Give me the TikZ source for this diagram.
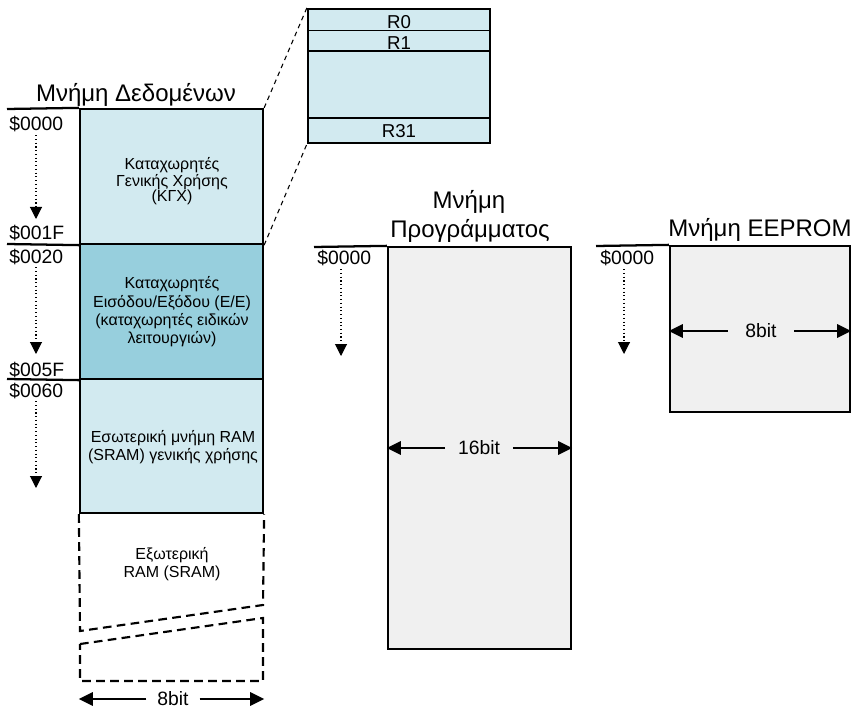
\documentclass[tikz,border=0pt]{standalone}
\usepackage{fontspec}
\setmainfont{Liberation Sans}
\usetikzlibrary{arrows.meta,fit}
\definecolor{lblue}{HTML}{D2EAF0}
\definecolor{mblue}{HTML}{97CFDD}
\definecolor{lgray}{HTML}{F0F0F0}
\begin{document}
\begin{tikzpicture}[x=0.75pt,y=-0.75pt,
  box/.style={draw=black,line width=1.7pt,inner sep=0pt},
  rule/.style={line width=1.7pt},
  ttl/.style={font=\fontsize{18}{21}\selectfont,inner sep=0pt,anchor=base},
  addr/.style={font=\fontsize{14.5}{17}\selectfont,inner sep=0pt,anchor=base west},
  reglbl/.style={font=\fontsize{14}{16}\selectfont,inner sep=0pt,anchor=base},
  btxt/.style={font=\fontsize{12}{13.8}\selectfont,align=center,inner sep=0pt},
  wlbl/.style={font=\fontsize{14.5}{17}\selectfont,inner ysep=0pt},
  dotarrow/.style={dotted,line width=0.8pt,-{Triangle[width=9pt,length=9pt]}},
  warrow/.style={line width=1.6pt,-{Triangle[width=10pt,length=10.5pt]}},
  extline/.style={line width=1.6pt,dash pattern=on 6.5pt off 4pt},
  zoomline/.style={line width=0.8pt,dash pattern=on 3.5pt off 3pt}
]
\useasboundingbox (0,0) rectangle (856,709);

% ---------- data memory ----------
\node[ttl] (dtitle) at (136,102) {Μνήμη Δεδομένων};
\node[box,fill=lblue,fit={(80,109) (263,244)}] (kgx) {};
\node[box,fill=mblue,fit={(80,244) (263,379)}] (io) {};
\node[box,fill=lblue,fit={(80,379) (263,513)}] (sram) {};
\draw[rule] (7,109) -- (kgx.north west);
\draw[rule] (7,244) -- (kgx.south west);
\draw[rule] (7,379) -- (io.south west);

\node[btxt,font=\fontsize{12}{11.5}\selectfont] (kgxt) at (172,181) {Καταχωρητές\\Γενικής Χρήσης\\(ΚΓΧ)};
\node[btxt] (iot) at (172,312) {Καταχωρητές\\Εισόδου/Εξόδου (Ε/Ε)\\(καταχωρητές ειδικών\\λειτουργιών)};
\node[btxt] (sramt) at (173,447) {Εσωτερική μνήμη RAM\\(SRAM) γενικής χρήσης};
\node[btxt] (extt) at (172,564) {Εξωτερική\\RAM (SRAM)};

% external (dashed) part
\draw[extline] (sram.south west) -- (80,631) -- (263,605) -- (sram.south east);
\draw[extline] (80,644) -- (263,618) -- (263,681) -- (80,681) -- cycle;

% address labels
\node[addr] (a0) at (9,131) {\$0000};
\node[addr] (a1f) at (9,239) {\$001F};
\node[addr] (a20) at (9,263) {\$0020};
\node[addr] (a5f) at (9,376) {\$005F};
\node[addr] (a60) at (9,397) {\$0060};
\coordinate (t1) at (36,219);
\coordinate (t2) at (36,354);
\coordinate (t3) at (36,488);
\draw[dotarrow] ([yshift=-2pt]a0.south -| t1) -- (t1);
\draw[dotarrow] ([yshift=-2pt]a20.south -| t2) -- (t2);
\draw[dotarrow] ([yshift=-2pt]a60.south -| t3) -- (t3);

% width arrow
\node[wlbl,inner xsep=8pt] (w8d) at (173,699) {8bit};
\draw[warrow] (w8d.west) -- (w8d.west -| sram.west);
\draw[warrow] (w8d.east) -- (w8d.east -| sram.east);

% ---------- register file ----------
\node[box,fill=lblue,fit={(308,9) (490,143)}] (reg) {};
\draw[line width=0.9pt] (308,30.5) -- (490,30.5);
\draw[line width=0.9pt] (308,51) -- (490,51);
\draw[line width=0.9pt] (308,118) -- (490,118);
\node[reglbl] (r0) at (399,28.5) {R0};
\node[reglbl] (r1) at (399,49.3) {R1};
\node[reglbl] (r31) at (399,137.5) {R31};
\draw[zoomline] (kgx.north east) -- (reg.north west);
\draw[zoomline] (kgx.south east) -- (reg.south west);

% ---------- program memory ----------
\node[ttl] (ptitle1) at (469,209) {Μνήμη};
\node[ttl] (ptitle2) at (470,238) {Προγράμματος};
\node[box,fill=lgray,fit={(388,247) (571,649)}] (prog) {};
\draw[rule] (314,247) -- (prog.north west);
\node[addr] (pa0) at (317,265) {\$0000};
\coordinate (tp) at (341,356);
\draw[dotarrow] ([yshift=-2pt]pa0.south -| tp) -- (tp);
\node[wlbl,inner xsep=9.5pt] (w16) at (479,448) {16bit};
\draw[warrow] (w16.west) -- (w16.west -| prog.west);
\draw[warrow] (w16.east) -- (w16.east -| prog.east);

% ---------- EEPROM ----------
\node[ttl] (etitle) at (760,237) {Μνήμη EEPROM};
\node[box,fill=lgray,fit={(670,246) (850,412)}] (ee) {};
\draw[rule] (596,246) -- (ee.north west);
\node[addr] (ea0) at (600,265) {\$0000};
\coordinate (te) at (624,354);
\draw[dotarrow] ([yshift=-2pt]ea0.south -| te) -- (te);
\node[wlbl,inner xsep=13pt] (w8e) at (761,331) {8bit};
\draw[warrow] (w8e.west) -- (w8e.west -| ee.west);
\draw[warrow] (w8e.east) -- (w8e.east -| ee.east);
\end{tikzpicture}
\end{document}
